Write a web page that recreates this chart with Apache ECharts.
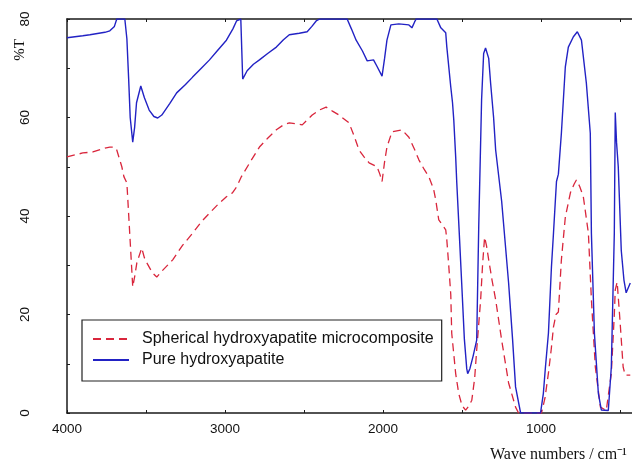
<!DOCTYPE html>
<html>
<head>
<meta charset="utf-8">
<script src="https://cdn.jsdelivr.net/npm/echarts@6/dist/echarts.min.js"></script>
<style>
html,body{margin:0;padding:0;background:#fff;overflow:hidden;width:632px;height:466px;}
#chart{width:720px;height:466px;}
</style>
</head>
<body>
<div id="chart"></div>
<script>
// Wavenumbers (cm^-1) and %T for each series
var pureWave = [4000,3900,3855,3760,3729,3700,3685,3634,3621,3610,3600,3584,3572,3560,3533,3510,3480,3450,3426,3400,3350,3306,3250,3205,3150,3098,3050,2991,2950,2927,2900,2892,2888,2860,2820,2782,2730,2675,2630,2593,2530,2480,2450,2423,2400,2227,2200,2170,2130,2100,2088,2060,2040,2006,1990,1975,1950,1900,1836,1817,1800,1790,1659,1634,1603,1596,1571,1560,1552,1540,1533,1515,1502,1485,1470,1464,1450,1430,1407,1394,1376,1363,1351,1331,1319,1300,1287,1249,1205,1180,1161,1129,1003,985,972,953,934,921,909,902,890,871,846,827,795,770,744,713,688,681,662,637,618,574,555,536,530,522,511,492,475,461,435];
var pureT    = [76.2,76.6,76.8,77.3,77.6,78.5,80,80,76,68,60,55,58,63,66.4,64,61.5,60.2,59.9,60.5,62.8,65,66.7,68.2,70,71.7,73.5,75.7,78,79.6,80,80,67.8,69.5,70.8,71.7,73,74.3,75.8,76.8,77.1,77.4,78.5,79.6,80,80,78,75.7,73.5,71.5,71.3,71.7,70.5,68.4,72,75.7,78.8,79,78.8,78.2,79.4,80,80,78.2,77.2,74.3,66.2,63,59.5,52,46.7,35,26.4,15,9,8,9,11.5,14.8,38,63.6,73,74.1,72,67,60,53.4,43,26.4,15,5.3,0,0,4,9.3,16.2,29.6,36.5,43.2,47,48.5,56.8,70.3,74.3,76.4,77.4,75.7,67,56.8,36.5,16.2,4,0.6,0.5,9.3,36.5,61,55,50,33,27,24.4,26.4];
var sphWave  = [4000,3900,3836,3760,3729,3700,3685,3653,3640,3621,3603,3584,3570,3558,3527,3510,3495,3460,3432,3400,3331,3270,3205,3150,3098,3040,2991,2953,2925,2896,2840,2782,2730,2675,2630,2593,2540,2511,2448,2404,2360,2320,2278,2215,2180,2152,2120,2088,2038,2020,2006,1990,1975,1943,1880,1836,1800,1773,1740,1710,1680,1666,1647,1620,1603,1596,1584,1571,1565,1540,1521,1500,1477,1455,1438,1420,1407,1382,1370,1357,1345,1331,1310,1287,1249,1205,1161,1142,997,975,953,935,921,905,890,871,846,814,790,776,755,732,700,681,656,624,587,555,536,530,518,499,480,467,435];
var sphT     = [52,52.8,53,53.8,54,54,53.4,50,48,46.7,36.5,25.6,28,30.5,33.5,31.5,30.5,28.5,27.6,28.8,31.1,34,36.5,38.8,40.6,42.5,43.9,44.7,46,48,51,54,55.8,57.5,58.5,58.9,58.7,58.5,60.5,61.5,62.1,61.3,60.5,58.9,56,53.4,52,50.8,50,48.5,47,51,54,57.1,57.5,56,53.5,51.4,49.5,48,45.5,43.2,39.2,38,37.2,35.1,30,24,16.2,8,4,1.5,0.6,1.5,2.6,7,12.8,23,30,35.7,34,31.1,27,23,14.8,6.1,1.2,0,0,3,8.1,13,17.5,20,20.5,31.1,39.8,44.7,46.5,47.3,46,43.9,36.5,23,9.3,1.2,0.5,8,20,25,26.6,18.3,9.3,7.7,7.7];
var seriesNames = ['Spherical hydroxyapatite microcomposite', 'Pure hydroxyapatite'];
var xTitle = 'Wave numbers / cm\u207B\u00B9';
var yTitle = '%T';

function pairs(w, t) { return w.map(function (v, i) { return [v, t[i]]; }); }

var chart = echarts.init(document.getElementById('chart'), null, {renderer: 'canvas'});
var axisCol = '#1a1a1a';
function plain(v) { return String(v); }
chart.setOption({
  animation: false,
  backgroundColor: '#ffffff',
  grid: {left: 67, right: 21, top: 19, bottom: 53, containLabel: false},
  xAxis: [{
    type: 'value', inverse: true, min: 0, max: 4000, interval: 1000,
    axisLine: {show: true, onZero: false, lineStyle: {color: axisCol, width: 1.5}},
    axisTick: {show: true, inside: true, length: 3, lineStyle: {color: axisCol}},
    minorTick: {show: true, splitNumber: 2, length: 3, lineStyle: {color: axisCol}},
    axisLabel: {margin: 9, fontFamily: 'Liberation Sans', fontSize: 13.5, color: '#111', formatter: plain},
    splitLine: {show: false}
  }, {
    type: 'value', position: 'top', inverse: true, min: 0, max: 4000, interval: 1000,
    axisLine: {show: true, onZero: false, lineStyle: {color: axisCol, width: 1.5}},
    axisTick: {show: true, inside: true, length: 3, lineStyle: {color: axisCol}},
    minorTick: {show: true, splitNumber: 2, length: 3, lineStyle: {color: axisCol}},
    axisLabel: {show: false},
    splitLine: {show: false}
  }],
  yAxis: {
    type: 'value', min: 0, max: 80, interval: 20,
    axisLine: {show: true, onZero: false, lineStyle: {color: axisCol, width: 1.5}},
    axisTick: {show: true, inside: true, length: 3, lineStyle: {color: axisCol}},
    minorTick: {show: true, splitNumber: 2, length: 3, lineStyle: {color: axisCol}},
    axisLabel: {rotate: 90, margin: 35, fontFamily: 'Liberation Sans', fontSize: 13.5, color: '#111', formatter: plain},
    splitLine: {show: false}
  },
  legend: {
    orient: 'vertical', left: 82, top: 320,
    padding: [11, 8, 13, 10],
    itemWidth: 36, itemHeight: 14, itemGap: 5,
    borderColor: '#222', borderWidth: 1.2, borderRadius: 0,
    backgroundColor: '#fff',
    itemStyle: {opacity: 0},
    lineStyle: {opacity: 1},
    textStyle: {fontFamily: 'Liberation Sans', fontSize: 16, color: '#111', padding: [0, 0, 0, 8]},
    data: seriesNames
  },
  graphic: [
    {type: 'text', x: 20, y: 50, rotation: Math.PI / 2,
     style: {text: yTitle, font: '15px "Liberation Serif"', fill: '#111', textAlign: 'center', textVerticalAlign: 'middle'}},
    {type: 'text', x: 490, y: 455,
     style: {text: xTitle, font: '16px "Liberation Serif"', fill: '#111', textAlign: 'left', textVerticalAlign: 'middle'}}
  ],
  series: [{
    name: seriesNames[0], type: 'line', xAxisIndex: 0, symbol: 'none', smooth: false,
    data: pairs(sphWave, sphT),
    lineStyle: {color: '#d9263c', width: 1.3, type: [8, 5]},
    itemStyle: {color: '#d9263c'}, z: 3
  }, {
    name: seriesNames[1], type: 'line', xAxisIndex: 0, symbol: 'none', smooth: false,
    data: pairs(pureWave, pureT),
    lineStyle: {color: '#2222c4', width: 1.4},
    itemStyle: {color: '#2222c4'}, z: 4
  }]
});
</script>
</body>
</html>
